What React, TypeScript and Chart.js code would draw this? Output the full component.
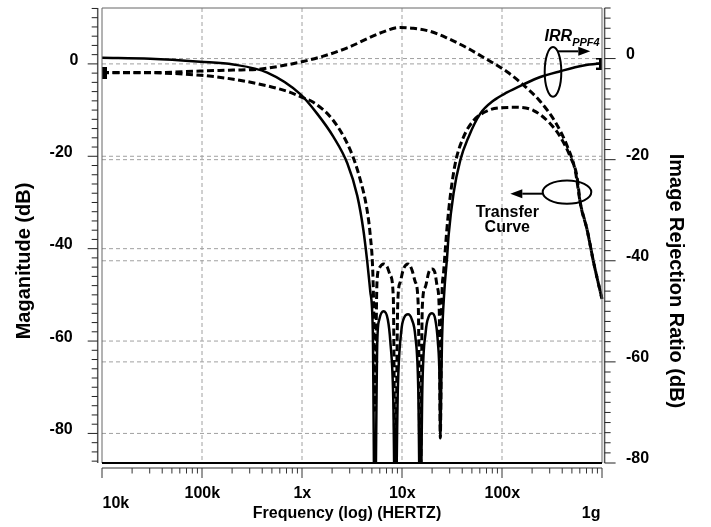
import React, { useEffect, useRef } from 'react';
import { Chart, registerables } from 'chart.js';

Chart.register(...registerables);

// ---- data (x as log10 of frequency in Hz) ----
const IRR_LOG_FREQ = [4.0, 4.483, 4.983, 5.313, 5.653, 5.983, 6.153, 6.313, 6.453, 6.553, 6.613, 6.653, 6.683, 6.708, 6.728, 6.753, 6.773, 6.816, 6.858, 6.883, 6.913, 6.933, 6.958, 6.993, 7.023, 7.06, 7.098, 7.133, 7.163, 7.183, 7.203, 7.238, 7.268, 7.3, 7.333, 7.358, 7.376, 7.383, 7.393, 7.4, 7.423, 7.45, 7.466, 7.516, 7.583, 7.666, 7.783, 7.916, 8.05, 8.216, 8.383, 8.583, 8.816, 8.95, 9.0];
const IRR_DB = [0.14, -0.06, -0.64, -1.17, -2.79, -7.04, -10.94, -15.44, -20.71, -27.16, -33.81, -40.26, -46.1, -53.9, -95, -55.9, -51.6, -50.0, -51.6, -55.9, -67.6, -95, -65.7, -53.9, -51.2, -50.6, -51.6, -54.9, -65.7, -95, -65.7, -53.9, -51.0, -50.4, -51.6, -55.9, -63.7, -75.0, -63.7, -55.9, -46.1, -39.5, -35.0, -26.6, -20.1, -15.5, -10.9, -8.3, -6.7, -5.1, -3.65, -2.5, -1.37, -1.04, -0.98];

const TF_UPPER_LOG_FREQ = [4.0, 4.483, 4.983, 5.313, 5.553, 5.783, 6.0, 6.213, 6.453, 6.783, 6.983, 7.113, 7.283, 7.45, 7.65, 7.85, 8.05, 8.216, 8.383, 8.543, 8.65, 8.733, 8.783, 8.85, 8.916, 9.0];
const TF_UPPER_DB = [-1.89, -1.89, -1.54, -1.33, -1.18, -0.47, 0.47, 1.67, 3.47, 6.69, 7.9, 7.7, 7.03, 5.61, 3.47, 0.96, -1.7, -4.6, -8.14, -12.96, -17.7, -23.2, -30.1, -35.8, -42.96, -50.9];

const TF_LOWER_LOG_FREQ = [4.0, 4.483, 4.983, 5.313, 5.653, 5.883, 6.0, 6.113, 6.313, 6.483, 6.583, 6.65, 6.683, 6.708, 6.718, 6.728, 6.75, 6.773, 6.816, 6.853, 6.883, 6.913, 6.933, 6.958, 6.983, 7.013, 7.06, 7.098, 7.133, 7.163, 7.183, 7.203, 7.233, 7.268, 7.3, 7.328, 7.353, 7.373, 7.383, 7.398, 7.416, 7.45, 7.483, 7.533, 7.616, 7.716, 7.85, 7.983, 8.15, 8.316, 8.483, 8.583, 8.683, 8.75, 8.783, 8.85, 8.916, 9.0];
const TF_LOWER_DB = [-1.89, -1.93, -2.46, -3.32, -4.76, -6.17, -7.24, -8.31, -12.26, -18.68, -25.11, -31.54, -37.2, -45.1, -54.3, -75, -47.2, -44.2, -43.3, -44.0, -45.8, -50.5, -95, -51.5, -47.2, -44.5, -43.3, -44.5, -47.2, -52.6, -95, -52.6, -48.3, -45.1, -44.4, -45.1, -48.3, -53.7, -81, -51.5, -45.1, -35.5, -28.6, -21.5, -15.8, -12.26, -10.2, -9.5, -9.4, -10.1, -12.96, -15.8, -20.1, -24.4, -30.1, -35.8, -42.96, -50.9];

const X_TICK_VALUES = [1e4, 1e5, 1e6, 1e7, 1e8, 1e9];
const X_TICK_LABELS = ['10k', '100k', '1x', '10x', '100x', '1g'];
const LEFT_TICK_VALUES = [0, -20, -40, -60, -80];
const LEFT_TICK_LABELS = ['0', '-20', '-40', '-60', '-80'];
const RIGHT_TICK_VALUES = [0, -20, -40, -60, -80];
const RIGHT_TICK_LABELS = ['0', '-20', '-40', '-60', '-80'];

const X_TITLE = 'Frequency (log) (HERTZ)';
const LEFT_TITLE = 'Maganitude (dB)';
const RIGHT_TITLE = 'Image Rejection Ratio (dB)';
const IRR_NOTE = 'IRR';
const IRR_NOTE_SUB = 'PPF4';
const TRANSFER_NOTE = ['Transfer', 'Curve'];

// annotation anchors in data coordinates
const IRR_LABEL_AT = { logF: 8.426, db: 3.38 };
const IRR_RING_AT = { logF: 8.51, db: -2.64 };
const IRR_ARROW = { fromLogF: 8.55, toLogF: 8.883, db: 1.43 };
const TF_RING_AT = { logF: 8.65, db: -27.75 };
const TF_ARROW = { fromLogF: 8.406, toLogF: 8.083, db: -28.1 };
const TF_LABEL_AT = { logF: 8.053, db: -32.25 };

const FONT = '"Liberation Sans", Arial, Helvetica, sans-serif';

const toPoints = (lf: number[], db: number[]) => lf.map((v, i) => ({ x: Math.pow(10, v), y: db[i] }));

function seg(ctx: CanvasRenderingContext2D, x1: number, y1: number, x2: number, y2: number) {
  ctx.beginPath();
  ctx.moveTo(x1, y1);
  ctx.lineTo(x2, y2);
  ctx.stroke();
}

function arrow(ctx: CanvasRenderingContext2D, x1: number, x2: number, y: number) {
  const dir = x2 > x1 ? 1 : -1;
  const head = 12;
  ctx.lineWidth = 2;
  seg(ctx, x1, y, x2 - dir * head, y);
  ctx.beginPath();
  ctx.moveTo(x2, y);
  ctx.lineTo(x2 - dir * head, y - 4.5);
  ctx.lineTo(x2 - dir * head, y + 4.5);
  ctx.closePath();
  ctx.fill();
}

function makeStartMarker() {
  const c = document.createElement('canvas');
  c.width = 10;
  c.height = 12;
  const g = c.getContext('2d')!;
  g.fillStyle = '#000';
  g.fillRect(5, 0, 5, 12);
  return c;
}

function makeEndMarker() {
  const c = document.createElement('canvas');
  c.width = 14;
  c.height = 12;
  const g = c.getContext('2d')!;
  g.fillStyle = '#000';
  g.fillRect(4, 0, 3, 12);
  g.fillRect(1, 0, 6, 2);
  g.fillRect(1, 5, 6, 2);
  g.fillRect(1, 10, 6, 2);
  return c;
}

const decorPlugin = {
  id: 'decor',
  beforeDatasetsDraw(chart: any) {
    const { ctx, chartArea: a, scales } = chart;
    const sx = scales.x, sl = scales.yL, sr = scales.yR;
    ctx.save();
    ctx.strokeStyle = '#a0a0a0';
    ctx.lineWidth = 1;
    ctx.setLineDash([4, 3]);
    X_TICK_VALUES.forEach((v, i) => {
      if (i === 0 || i === X_TICK_VALUES.length - 1) return;
      const px = sx.getPixelForValue(v);
      seg(ctx, px, a.top, px, a.bottom);
    });
    LEFT_TICK_VALUES.forEach((v) => {
      const py = sl.getPixelForValue(v);
      if (py < a.bottom - 1) seg(ctx, a.left, py, a.right, py);
    });
    RIGHT_TICK_VALUES.forEach((v) => {
      const py = sr.getPixelForValue(v);
      if (py < a.bottom - 1) seg(ctx, a.left, py, a.right, py);
    });
    ctx.restore();
  },
  afterDatasetsDraw(chart: any) {
    const { ctx, chartArea: a, scales } = chart;
    const sx = scales.x, sl = scales.yL, sr = scales.yR;
    ctx.save();
    ctx.setLineDash([]);

    // plot frame
    ctx.lineWidth = 1;
    ctx.strokeStyle = '#666';
    seg(ctx, a.left, a.top, a.right, a.top);
    seg(ctx, a.left, a.top, a.left, a.bottom);
    seg(ctx, a.right, a.top, a.right, a.bottom);
    ctx.lineWidth = 2;
    ctx.strokeStyle = '#000';
    seg(ctx, a.left, a.bottom, a.right, a.bottom);

    // left axis
    const lx = a.left - 4.3;
    ctx.lineWidth = 1.5;
    ctx.strokeStyle = '#555';
    seg(ctx, lx, a.top, lx, a.bottom);
    ctx.lineWidth = 1;
    ctx.strokeStyle = '#222';
    for (let v = Math.ceil(sl.min / 2) * 2; v <= sl.max; v += 2) {
      const py = sl.getPixelForValue(v);
      const len = LEFT_TICK_VALUES.includes(v) ? 10 : 6;
      seg(ctx, lx - len, py, lx, py);
    }

    // right axis
    const rx = a.right + 2.6;
    ctx.lineWidth = 1.5;
    ctx.strokeStyle = '#555';
    seg(ctx, rx, a.top, rx, a.bottom);
    ctx.lineWidth = 1;
    ctx.strokeStyle = '#222';
    for (let v = Math.ceil(sr.min / 2) * 2; v <= sr.max; v += 2) {
      const py = sr.getPixelForValue(v);
      const len = RIGHT_TICK_VALUES.includes(v) ? 11 : 6;
      seg(ctx, rx, py, rx + len, py);
    }

    // bottom axis
    const by = a.bottom + 5;
    ctx.lineWidth = 1.2;
    ctx.strokeStyle = '#333';
    seg(ctx, a.left, by, a.right, by);
    ctx.lineWidth = 1;
    for (let d = 4; d <= 9; d++) {
      for (let k = 1; k <= 9; k++) {
        const v = k * Math.pow(10, d);
        if (v > sx.max * 1.0001) break;
        const px = sx.getPixelForValue(v);
        seg(ctx, px, by, px, by + (k === 1 ? 10 : 5.5));
      }
    }

    // tick labels
    ctx.fillStyle = '#000';
    ctx.font = `bold 16px ${FONT}`;
    ctx.textBaseline = 'alphabetic';
    LEFT_TICK_VALUES.forEach((v, i) => {
      const py = sl.getPixelForValue(v);
      const lbl = LEFT_TICK_LABELS[i];
      ctx.textAlign = 'right';
      ctx.fillText(lbl, lbl.startsWith('-') ? lx - 25 : lx - 19.4, py + 0.8);
    });
    RIGHT_TICK_VALUES.forEach((v, i) => {
      const py = sr.getPixelForValue(v);
      ctx.textAlign = 'left';
      ctx.fillText(RIGHT_TICK_LABELS[i], rx + 21.4, py);
    });
    X_TICK_VALUES.forEach((v, i) => {
      const px = sx.getPixelForValue(v);
      const lbl = X_TICK_LABELS[i];
      if (i === 0) {
        ctx.textAlign = 'left';
        ctx.fillText(lbl, px + 0.5, by + 39.5);
      } else if (i === X_TICK_VALUES.length - 1) {
        ctx.textAlign = 'right';
        ctx.fillText(lbl, px - 1.5, by + 49.5);
      } else {
        ctx.textAlign = 'center';
        ctx.fillText(lbl, px + 0.3, by + 29.5);
      }
    });

    // axis titles
    ctx.textAlign = 'center';
    ctx.fillText(X_TITLE, a.left + 245, a.bottom + 55);
    ctx.font = `bold 20px ${FONT}`;
    ctx.save();
    ctx.translate(29.7, 261);
    ctx.rotate(-Math.PI / 2);
    ctx.fillText(LEFT_TITLE, 0, 0);
    ctx.restore();
    ctx.save();
    ctx.translate(670.4, 281);
    ctx.rotate(Math.PI / 2);
    ctx.fillText(RIGHT_TITLE, 0, 0);
    ctx.restore();

    // annotations
    ctx.strokeStyle = '#000';
    ctx.fillStyle = '#000';
    ctx.lineWidth = 2;
    const ix = sx.getPixelForValue(Math.pow(10, IRR_LABEL_AT.logF));
    const iy = sr.getPixelForValue(IRR_LABEL_AT.db);
    ctx.textAlign = 'left';
    ctx.font = `italic bold 16px ${FONT}`;
    ctx.fillText(IRR_NOTE, ix, iy);
    const w = ctx.measureText(IRR_NOTE).width;
    ctx.font = `italic bold 11px ${FONT}`;
    ctx.fillText(IRR_NOTE_SUB, ix + w, iy + 5);

    ctx.beginPath();
    ctx.ellipse(sx.getPixelForValue(Math.pow(10, IRR_RING_AT.logF)), sr.getPixelForValue(IRR_RING_AT.db), 8.3, 24.8, 0, 0, Math.PI * 2);
    ctx.stroke();
    arrow(ctx, sx.getPixelForValue(Math.pow(10, IRR_ARROW.fromLogF)), sx.getPixelForValue(Math.pow(10, IRR_ARROW.toLogF)), sr.getPixelForValue(IRR_ARROW.db));

    ctx.lineWidth = 2;
    ctx.beginPath();
    ctx.ellipse(sx.getPixelForValue(Math.pow(10, TF_RING_AT.logF)), sl.getPixelForValue(TF_RING_AT.db), 24.3, 11.7, 0, 0, Math.PI * 2);
    ctx.stroke();
    arrow(ctx, sx.getPixelForValue(Math.pow(10, TF_ARROW.fromLogF)), sx.getPixelForValue(Math.pow(10, TF_ARROW.toLogF)), sl.getPixelForValue(TF_ARROW.db));

    ctx.font = `bold 16px ${FONT}`;
    ctx.textAlign = 'center';
    ctx.textBaseline = 'middle';
    const tx = sx.getPixelForValue(Math.pow(10, TF_LABEL_AT.logF));
    const ty = sl.getPixelForValue(TF_LABEL_AT.db);
    TRANSFER_NOTE.forEach((t, i) => ctx.fillText(t, tx, ty + i * 15));

    ctx.restore();
  },
};

export default function App() {
  const ref = useRef<HTMLCanvasElement | null>(null);

  useEffect(() => {
    if (!ref.current) return;
    const startMarker = makeStartMarker();
    const endMarker = makeEndMarker();
    const irrPts = toPoints(IRR_LOG_FREQ, IRR_DB);
    const upPts = toPoints(TF_UPPER_LOG_FREQ, TF_UPPER_DB);
    const loPts = toPoints(TF_LOWER_LOG_FREQ, TF_LOWER_DB);
    const clip = { left: 0, right: 8, top: 2, bottom: 0 };

    const chart = new Chart(ref.current, {
      type: 'line',
      data: {
        datasets: [
          {
            label: 'Transfer (lower)',
            data: loPts,
            yAxisID: 'yL',
            borderColor: '#000',
            borderWidth: 3,
            borderDash: [7, 3.5],
            cubicInterpolationMode: 'monotone',
            pointRadius: 0,
            clip,
          },
          {
            label: 'Transfer (upper)',
            data: upPts,
            yAxisID: 'yL',
            borderColor: '#000',
            borderWidth: 3,
            borderDash: [7, 3.5],
            cubicInterpolationMode: 'monotone',
            pointRadius: (c: any) => (c.dataIndex === 0 ? 5 : 0),
            pointStyle: (c: any) => (c.dataIndex === 0 ? startMarker : 'circle'),
            pointHoverRadius: 0,
            clip,
          },
          {
            label: 'IRR PPF4',
            data: irrPts,
            yAxisID: 'yR',
            borderColor: '#000',
            borderWidth: 2.5,
            cubicInterpolationMode: 'monotone',
            pointRadius: (c: any) => (c.dataIndex === IRR_LOG_FREQ.length - 1 ? 5 : 0),
            pointStyle: (c: any) => (c.dataIndex === IRR_LOG_FREQ.length - 1 ? endMarker : 'circle'),
            pointHoverRadius: 0,
            clip,
          },
        ] as any,
      },
      options: {
        responsive: false,
        animation: false,
        events: [],
        layout: { padding: { left: 102, right: 109, top: 3, bottom: 64 } },
        elements: { line: { capBezierPoints: false } as any },
        plugins: { legend: { display: false }, tooltip: { enabled: false } },
        scales: {
          x: { type: 'logarithmic', min: 1e4, max: 1e9, display: false },
          yL: { type: 'linear', position: 'left', min: -86.4, max: 12.1, display: false },
          yR: { type: 'linear', position: 'right', min: -80, max: 10, display: false },
        },
      } as any,
      plugins: [decorPlugin as any],
    });
    return () => chart.destroy();
  }, []);

  return (
    <div style={{ position: 'absolute', left: 0, top: 0, width: 711, height: 527, background: '#fff' }}>
      <canvas ref={ref} width={711} height={527} style={{ display: 'block' }} />
    </div>
  );
}
